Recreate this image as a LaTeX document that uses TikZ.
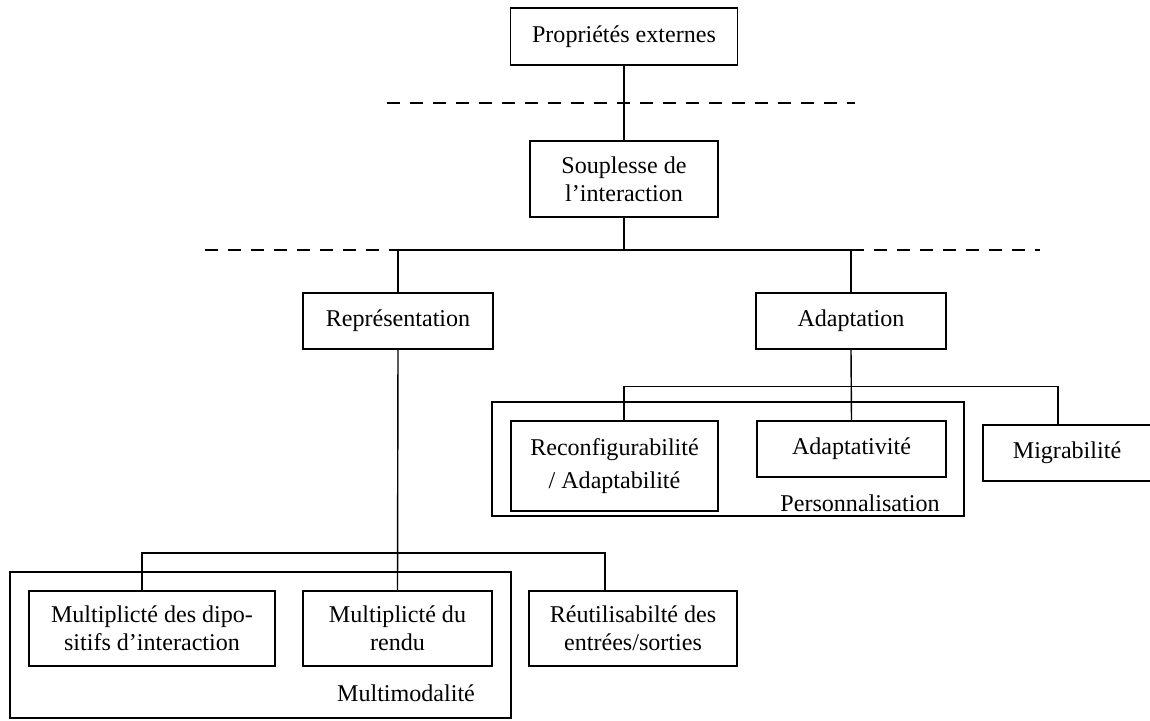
\documentclass[tikz,border=0pt]{standalone}
\usepackage{fontspec}
\setmainfont{Liberation Serif}
\usetikzlibrary{positioning,calc}

\begin{document}
\begin{tikzpicture}[
  box/.style={rectangle,draw,line width=0.8pt,minimum height=1.12cm,
              minimum width=3.8cm,align=center,inner sep=2pt,
              font=\fontsize{13.7}{16}\selectfont},
  lbl/.style={font=\fontsize{13.7}{16}\selectfont},
  grp/.style={draw,line width=0.8pt},
  link/.style={line width=0.8pt},
  sep/.style={line width=0.8pt,dash pattern=on 7.4pt off 5.7pt}
]
  \useasboundingbox (0,0) rectangle (23,-14.4);

  % levels
  \node[box,minimum width=4.54cm,minimum height=1.14cm] (prop) at (12.48,-0.73) {Propriétés externes};
  \node[box,minimum width=3.76cm,minimum height=1.52cm] (soup) at (12.48,-3.58) {Souplesse de\\l’interaction};
  \node[box] (repr) at (7.96,-6.42) {Représentation};
  \node[box] (adap) at (17.02,-6.42) {Adaptation};

  % Personnalisation group
  \draw[grp] (9.84,-8.04) rectangle (19.28,-10.32);
  \node[lbl] (pers) at (17.2,-10.06) {Personnalisation};
  \node[box,minimum width=4.14cm,minimum height=1.8cm,
        font=\fontsize{13.7}{19}\selectfont] (reconf) at (12.29,-9.32) {Reconfigurabilité\\/ Adaptabilité};
  \node[box,minimum width=3.78cm] (adapt) at (17.03,-8.98) {Adaptativité};
  \node[box,minimum width=3.36cm] (migr) at (21.34,-9.06) {Migrabilité};

  % Multimodalite group
  \draw[grp] (0.2,-11.44) rectangle (10.22,-14.36);
  \node[lbl] (multi) at (8.12,-13.86) {Multimodalité};
  \node[box,minimum width=4.92cm,minimum height=1.5cm] (disp) at (3.04,-12.57) {Multiplicté des dipo-\\sitifs d’interaction};
  \node[box,minimum width=3.78cm,minimum height=1.5cm] (rendu) at (7.95,-12.57) {Multiplicté du\\rendu};
  \node[box,minimum width=4.16cm,minimum height=1.5cm] (reut) at (12.66,-12.57) {Réutilisabilté des\\entrées/sorties};

  % separators
  \coordinate (d1l) at (7.74,-2.06);
  \coordinate (d1r) at (17.1,-2.06);
  \coordinate (bar2) at (0,-5.0);
  \coordinate (d2l) at (4.1,-5.0);
  \coordinate (d2r) at (20.8,-5.0);
  \draw[sep] (d1l) -- (d1r);
  \draw[sep] (d2l) -- (repr.north |- bar2);
  \draw[sep] (adap.north |- bar2) -- (d2r);

  % connectors
  \draw[link] (prop) -- (soup);
  \draw[link] (soup.south) -- (soup.south |- bar2);
  \draw[link] (repr.north) |- (adap.north |- bar2) -- (adap.north);

  \coordinate (bar3) at (0,-7.73);
  \coordinate (migc) at ($(migr.north)+(-0.18,0)$);
  \draw[link] (adap.south) -- (adapt.north);
  \draw[link] (reconf.north -| soup.south) |- (migc |- bar3) -- (migc);

  \coordinate (bar4) at (0,-11.06);
  \coordinate (dispc) at ($(disp.north)+(-0.2,0)$);
  \coordinate (reutc) at ($(reut.north)+(-0.56,0)$);
  \draw[link] (repr.south) -- (rendu.north);
  \draw[link] (dispc) |- (reutc |- bar4) -- (reutc);
\end{tikzpicture}
\end{document}
